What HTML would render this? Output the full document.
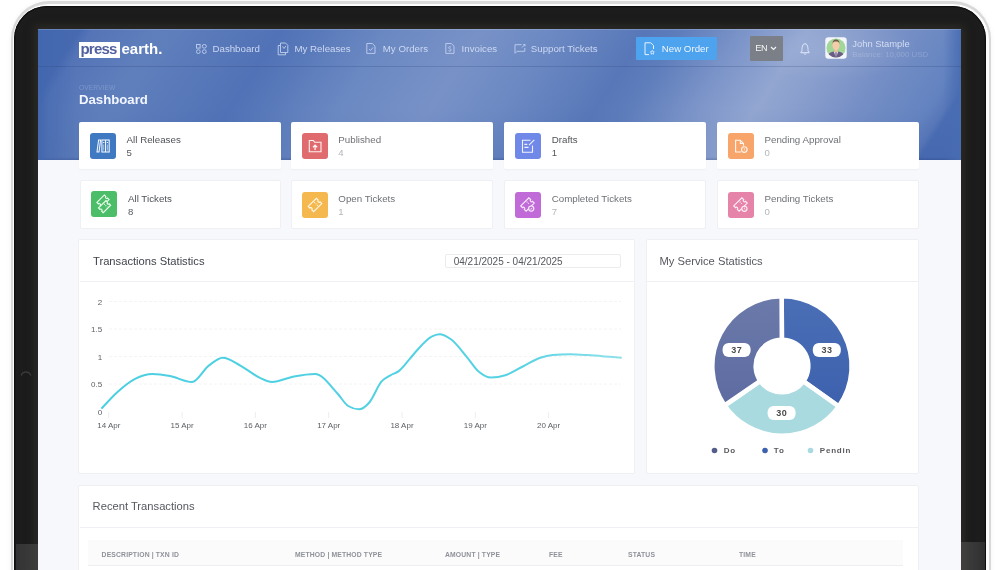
<!DOCTYPE html>
<html><head><meta charset="utf-8"><title>Dashboard</title>
<style>
*{box-sizing:border-box;margin:0;padding:0}
html,body{width:1001px;height:570px;overflow:hidden;background:#fff;font-family:"Liberation Sans",Arial,sans-serif}
#silver{position:absolute;left:10.6px;top:1.2px;width:980px;height:640px;border-radius:38px;background:#d9d9d9;box-shadow:0 0 5px rgba(0,0,0,.05)}
#silver2{position:absolute;left:13.2px;top:3.5px;width:975.6px;height:640px;border-radius:35.5px;background:#fcfcfc}
#bezel{position:absolute;left:14.2px;top:5.5px;width:971.6px;height:640px;border-radius:33px;background:#1c1c1c;box-shadow:inset 0 0 0 1.2px #0f0f0f}
#bbl{position:absolute;left:15.5px;top:544px;width:23px;height:30px;background:linear-gradient(90deg,#333 0,#3a3a3a 60%,#424242 100%)}
#bbr{position:absolute;left:961px;top:541.6px;width:23.8px;height:30px;background:linear-gradient(90deg,#464646 0,#3a3a3a 40%,#2f2f2f 100%)}
#screen{position:absolute;left:38px;top:29px;width:923px;height:541px;overflow:hidden;background:#f7f8fb}
#in{position:absolute;left:-38px;top:-29px;width:1001px;height:570px}
#hdr{position:absolute;left:38px;top:29px;width:923px;height:131px;overflow:hidden;background:#5b7bbb}
#hbase{position:absolute;left:-138px;top:0;width:1200px;height:131px;transform-origin:0 65.5px;transform:skewX(-33deg);background:linear-gradient(90deg,#4669b0 0px,#4669b0 138px,#5474b7 150px,#5f7fbc 220px,#5172b6 340px,#5778b9 372px,#6a88c2 445px,#7892c7 540px,#6c89c3 610px,#5e7dbb 675px,#5877b8 705px,#5e7dbb 740px,#7a93c8 800px,#92a6d1 865px,#8a9fcd 900px,#7790c6 961px,#6383c0 1036px,#5878b9 1054px,#4a6db3 1061px,#4a6db3 1201px)}
#hshade{position:absolute;left:0;top:0;width:923px;height:131px;background:linear-gradient(90deg,#4267ae 0,rgba(66,103,174,.45) 10px,rgba(70,105,176,0) 38px,rgba(70,105,176,0) 905px,rgba(72,108,178,.9) 923px),linear-gradient(180deg,rgba(20,40,100,0) 0,rgba(20,40,100,0) 128px,rgba(20,40,100,.22) 131px),linear-gradient(180deg,rgba(255,255,255,0) 60%,rgba(20,50,130,.08) 100%)}
#navline{position:absolute;left:38px;top:66px;width:923px;height:1px;background:rgba(40,60,110,.22)}
.nav{position:absolute;top:43px;font-size:9.7px;color:#cdd8f2;white-space:nowrap;line-height:11px}
.ico{position:absolute}
.card{position:absolute;background:#fff;border-radius:2px}
.r1{top:122px;height:47px;box-shadow:0 1px 2px rgba(0,0,0,.04)}
.r2{top:180px;height:48.5px;border:1px solid #eef0f4}
.ib{position:absolute;width:26px;height:26px;border-radius:3px}
.ib svg{position:absolute;left:0;top:0}
.lbl{position:absolute;font-size:9.75px;color:#4f5258;white-space:nowrap;line-height:11px}
.num{position:absolute;font-size:9.6px;color:#55585e;line-height:11px}
.num.l{color:#b3b6bb}
.lbl.l{color:#6e7176}
.pcard{position:absolute;background:#fff;border:1px solid #eef0f3;border-radius:2px}
.ttl{position:absolute;font-size:11.2px;color:#3f4349;white-space:nowrap;line-height:13px}
.ax{font-family:"Liberation Sans",Arial,sans-serif;font-size:8px;fill:#5b5e63}
.th{position:absolute;top:551px;font-size:6.8px;font-weight:bold;color:#8e9197;letter-spacing:.15px;white-space:nowrap;line-height:8px}
</style></head><body>
<div id="silver"></div>
<div id="silver2"></div>
<div id="bezel"></div>
<div id="bbl"></div><div id="bbr"></div>
<svg style="position:absolute;left:18px;top:367px" width="16" height="14" viewBox="0 0 16 14" fill="none"><path d="M3.2 8.6A5 5 0 0 1 12.8 8.6" stroke="#3a3a3a" stroke-width="1.3"/></svg>
<div style="position:absolute;left:38px;top:29px;width:923px;height:560px;box-shadow:0 0 8px 3px rgba(58,56,50,.55)"></div>
<div id="screen"><div id="in">
  <div id="hdr"><div id="hbase"></div><div id="hshade"></div></div>
  <div style="position:absolute;left:740px;top:20px;width:180px;height:60px;border-radius:50%;background:radial-gradient(closest-side,rgba(255,255,255,.10),rgba(255,255,255,0))"></div>
  <div style="position:absolute;left:38px;top:29px;width:923px;height:1px;background:rgba(255,255,255,.18)"></div>
  <div id="navline"></div>

  <!-- logo -->
  <div style="position:absolute;left:79px;top:42px;width:41px;height:15.5px;background:#fff"></div>
  <div style="position:absolute;left:80.5px;top:40px;font-size:15px;font-weight:bold;line-height:18px;white-space:nowrap;letter-spacing:-0.8px;color:#51609f">press</div><div style="position:absolute;left:121.5px;top:40px;font-size:15px;font-weight:bold;line-height:18px;white-space:nowrap;color:#fff">earth.</div>

  <!-- nav -->
  <svg class="ico" style="left:196px;top:44px" width="11" height="10" viewBox="0 0 11 10" fill="none" stroke="#b9c8ea" stroke-width="1"><rect x="0.5" y="0.5" width="3.6" height="3.6"/><rect x="6.3" y="0.5" width="4" height="3.6" rx="1.8"/><circle cx="2.3" cy="7.6" r="1.9"/><circle cx="8.3" cy="7.6" r="1.9"/></svg>
  <div class="nav" style="left:212.5px">Dashboard</div>
  <svg class="ico" style="left:277px;top:42px" width="12" height="14" viewBox="0 0 12 14" fill="none" stroke="#b9c8ea" stroke-width="1"><path d="M3.5 3.5H1.2V12.8H8.5V10.5"/><path d="M3.5 1H8.5L10.8 3.3V10.5H3.5Z"/><path d="M5.5 4.5L7 6.5L8.8 4"/></svg>
  <div class="nav" style="left:294.5px">My Releases</div>
  <svg class="ico" style="left:366px;top:43px" width="10" height="11" viewBox="0 0 10 11" fill="none" stroke="#b9c8ea" stroke-width="1"><path d="M0.8 0.5H6.3L9 3.2V10.4H0.8Z"/><path d="M3 6L4.5 7.5L7 4.5"/></svg>
  <div class="nav" style="left:382.8px">My Orders</div>
  <svg class="ico" style="left:445px;top:43px" width="10" height="11" viewBox="0 0 10 11" fill="none" stroke="#b9c8ea" stroke-width="1"><path d="M0.8 0.5H6.3L9 3.2V10.4H0.8Z"/><path d="M6 4.3C5.5 3.6 3.5 3.6 3.5 4.8C3.5 6 6.3 5.6 6.3 7C6.3 8.2 4.2 8.2 3.5 7.5M4.9 3V3.6M4.9 8V8.6" stroke-width=".9"/></svg>
  <div class="nav" style="left:461.6px">Invoices</div>
  <svg class="ico" style="left:513.5px;top:44px" width="12" height="10" viewBox="0 0 12 10" fill="none" stroke="#b9c8ea" stroke-width="1"><path d="M7.5 0.7H1V9.3L3 7.3H10.8V4"/><path d="M9.2 0.5L11 0.5V2.3M8 3.5L11 0.5"/></svg>
  <div class="nav" style="left:530.8px">Support Tickets</div>

  <!-- new order -->
  <div style="position:absolute;left:635.5px;top:37px;width:81px;height:23px;background:#4ea3ef;border-radius:1px"></div>
  <svg class="ico" style="left:644px;top:42px" width="12" height="14" viewBox="0 0 12 14" fill="none" stroke="#e6f1ff" stroke-width="1"><path d="M5 12.6H1V0.8H6.8L9.5 3.5V7"/><path d="M8.3 8.3L8.9 9.6L10.3 9.8L9.3 10.8L9.5 12.2L8.3 11.5L7.1 12.2L7.3 10.8L6.3 9.8L7.7 9.6Z" stroke-width=".8"/></svg>
  <div class="nav" style="left:661.8px;top:43px;color:#eef5ff">New Order</div>

  <!-- EN -->
  <div style="position:absolute;left:749.5px;top:36px;width:33.5px;height:25px;background:#7b7f87;border-radius:1px"></div>
  <div class="nav" style="left:755.3px;top:43.2px;font-size:9.2px;color:#f4f4f4;letter-spacing:-.3px">EN</div>
  <svg class="ico" style="left:770px;top:46px" width="7" height="5" viewBox="0 0 7 5" fill="none" stroke="#f4f4f4" stroke-width="1.2"><path d="M1 1L3.5 3.5L6 1"/></svg>

  <!-- bell -->
  <svg class="ico" style="left:799.5px;top:41.5px" width="10" height="13" viewBox="0 0 10 13" fill="none" stroke="#d3dcf5" stroke-width="1.1" stroke-linejoin="round"><path d="M5 1.4C7.2 2.4 8 4.4 8 6.8V8.8L9.2 10.6H0.8L2 8.8V6.8C2 4.4 2.8 2.4 5 1.4Z"/><path d="M3.7 11.5Q5 13 6.3 11.5"/></svg>

  <!-- avatar -->
  <svg class="ico" style="left:824.5px;top:37px" width="22" height="22" viewBox="0 0 22 22">
    <rect x="0.3" y="0.3" width="21.4" height="21.4" rx="3" fill="#f4f6fb"/>
    <clipPath id="avc"><circle cx="11" cy="11" r="9.6"/></clipPath>
    <circle cx="11" cy="11" r="9.6" fill="#a3d699"/>
    <g clip-path="url(#avc)">
      <path d="M2 23C2 16.5 5.5 14.6 11 14.6C16.5 14.6 20 16.5 20 23Z" fill="#6b5c86"/>
      <path d="M8.8 14.6L11 20.5L13.2 14.6Z" fill="#f2eef6"/>
      <path d="M10.4 15.2L11.6 15.2L11.4 20L10.6 20Z" fill="#4b3f6a"/>
      <rect x="9.6" y="11" width="2.8" height="4" fill="#f0c090"/>
      <ellipse cx="11" cy="8.2" rx="3.5" ry="5" fill="#f6cba9"/>
      <path d="M7.5 7C7.5 3.8 9 2.6 11 2.6C13 2.6 14.5 3.8 14.5 7C14 5 13 4.5 11 4.5C9 4.5 8 5 7.5 7Z" fill="#6e5a48"/>
    </g>
  </svg>
  <div class="nav" style="left:852.3px;top:38.3px;font-size:9.4px;color:#d4ddf4">John Stample</div>
  <div class="nav" style="left:852.3px;top:50px;font-size:7.9px;color:rgba(255,255,255,.2);line-height:9px">Balance: 10,000 USD</div>

  <!-- title -->
  <div style="position:absolute;left:79px;top:84px;font-size:6.6px;color:#7f97cc;letter-spacing:.1px;line-height:7px">OVERVIEW</div>
  <div style="position:absolute;left:79px;top:92.5px;font-size:13.2px;font-weight:bold;color:#f3f6ff;line-height:14px">Dashboard</div>

  <!-- row 1 cards -->
  <div class="card r1" style="left:79px;width:201.6px"></div>
  <div class="card r1" style="left:291.4px;width:202px"></div>
  <div class="card r1" style="left:504px;width:202px"></div>
  <div class="card r1" style="left:716.6px;width:202px"></div>

  <div class="ib" style="left:90px;top:133px;background:#3f79c1"><svg width="26" height="26" viewBox="0 0 26 26" fill="none" stroke="#eef4ff" stroke-width="1.1"><path d="M8.6 7H10.6L9 19H7Z"/><rect x="11.9" y="7" width="7.3" height="12"/><path d="M15.55 7V19"/><path d="M13.7 9V10M17.4 9V10" stroke-width="1.3"/><path d="M13.7 11.5V17.5M17.4 11.5V17.5" stroke-width=".6"/></svg></div>
  <div class="lbl" style="left:126.6px;top:133.9px">All Releases</div>
  <div class="num" style="left:126.6px;top:146.6px">5</div>

  <div class="ib" style="left:302.4px;top:132.7px;background:#e06b6f"><svg width="26" height="26" viewBox="0 0 26 26" fill="none" stroke="#fff1f1" stroke-width="1.1"><path d="M7.3 7.5H11.2L12.7 9.2H19V18.7H7.3Z"/><path d="M13.1 17V12.3M11 14.3L13.1 12.2L15.2 14.3" stroke-width="1.3"/></svg></div>
  <div class="lbl l" style="left:338.3px;top:133.9px">Published</div>
  <div class="num l" style="left:338.3px;top:146.6px">4</div>

  <div class="ib" style="left:515.2px;top:132.7px;background:#7088e8"><svg width="26" height="26" viewBox="0 0 26 26" fill="none" stroke="#f0f3ff" stroke-width="1.1"><path d="M15.5 7.2H7.5V19.3H17.5V12.5"/><path d="M9.4 11.3H12.3M9.4 14.3H13.5" stroke-width="1.3"/><path d="M14 12.2L19.3 6.8"/></svg></div>
  <div class="lbl" style="left:551.7px;top:133.9px">Drafts</div>
  <div class="num" style="left:551.7px;top:146.6px">1</div>

  <div class="ib" style="left:728px;top:132.8px;background:#f7a56b"><svg width="26" height="26" viewBox="0 0 26 26" fill="none" stroke="#fff6ee" stroke-width="1.1"><path d="M13.2 19H7.6V7.3H12.3L15.5 10.5V12.8"/><path d="M12.3 7.3V10.5H15.5"/><circle cx="16.3" cy="16.6" r="2.8"/><path d="M16.3 15.2V16.7L17.2 17.4" stroke-width=".8"/></svg></div>
  <div class="lbl l" style="left:764.5px;top:133.9px">Pending Approval</div>
  <div class="num l" style="left:764.5px;top:146.6px">0</div>

  <!-- row 2 cards -->
  <div class="card r2" style="left:80px;width:200.6px"></div>
  <div class="card r2" style="left:291.4px;width:202px"></div>
  <div class="card r2" style="left:504px;width:202px"></div>
  <div class="card r2" style="left:716.6px;width:202px"></div>

  <div class="ib" style="left:91.3px;top:191.3px;background:#4cbd68"><svg width="26" height="26" viewBox="0 0 26 26" fill="none" stroke="#effff2" stroke-width="1.1"><g transform="translate(12,10) rotate(-45)"><path d="M-5.25,-3.3H5.25V-1.2A1.2,1.2 0 0 0 5.25,1.2V3.3H-5.25V1.2A1.2,1.2 0 0 0 -5.25,-1.2Z"/></g><g transform="translate(13.6,15.6) rotate(-45)"><path d="M-5.25,-3.3H5.25V-1.2A1.2,1.2 0 0 0 5.25,1.2V3.3H-5.25V1.2A1.2,1.2 0 0 0 -5.25,-1.2Z" fill="#4cbd68"/><path d="M1.5,-2.2V2.2" stroke-dasharray="1 1"/></g></svg></div>
  <div class="lbl" style="left:128px;top:192.9px">All Tickets</div>
  <div class="num" style="left:128px;top:206.1px">8</div>

  <div class="ib" style="left:302.1px;top:191.5px;background:#f5b84e"><svg width="26" height="26" viewBox="0 0 26 26" fill="none" stroke="#fff8ea" stroke-width="1.1"><g transform="translate(13,13) rotate(-45)"><path d="M-5.75,-3.8H5.75V-1.3A1.3,1.3 0 0 0 5.75,1.3V3.8H-5.75V1.3A1.3,1.3 0 0 0 -5.75,-1.3Z"/><path d="M1.5,-2.6V2.6" stroke-dasharray="1 1"/></g></svg></div>
  <div class="lbl l" style="left:338.3px;top:192.9px">Open Tickets</div>
  <div class="num l" style="left:338.3px;top:206.1px">1</div>

  <div class="ib" style="left:515.2px;top:191.5px;background:#c16bd9"><svg width="26" height="26" viewBox="0 0 26 26" fill="none" stroke="#fbefff" stroke-width="1.1"><g transform="translate(12.5,12.5) rotate(-45)"><path d="M-5.75,-3.8H5.75V-1.3A1.3,1.3 0 0 0 5.75,1.3V3.8H-5.75V1.3A1.3,1.3 0 0 0 -5.75,-1.3Z"/><path d="M1.5,-2.6V1" stroke-dasharray="1 1"/></g><circle cx="16.2" cy="16.6" r="2.6" fill="#c16bd9"/><path d="M15.1 16.6L15.9 17.4L17.3 15.8" stroke-width=".8"/></svg></div>
  <div class="lbl l" style="left:551.7px;top:192.9px">Completed Tickets</div>
  <div class="num l" style="left:551.7px;top:206.1px">7</div>

  <div class="ib" style="left:727.7px;top:191.5px;background:#e683a9"><svg width="26" height="26" viewBox="0 0 26 26" fill="none" stroke="#fff0f6" stroke-width="1.1"><g transform="translate(12.5,12.5) rotate(-45)"><path d="M-5.75,-3.8H5.75V-1.3A1.3,1.3 0 0 0 5.75,1.3V3.8H-5.75V1.3A1.3,1.3 0 0 0 -5.75,-1.3Z"/><path d="M1.5,-2.6V1" stroke-dasharray="1 1"/></g><circle cx="16.4" cy="16.8" r="2.6" fill="#e683a9"/><path d="M16.4 15.6V16.9L17.3 17.5" stroke-width=".8"/></svg></div>
  <div class="lbl l" style="left:764.5px;top:192.9px">Pending Tickets</div>
  <div class="num l" style="left:764.5px;top:206.1px">0</div>

  <!-- chart cards -->
  <div class="pcard" style="left:78px;top:239px;width:557px;height:234.5px"></div>
  <div style="position:absolute;left:79.5px;top:281px;width:555px;height:1px;background:#eef0f3"></div>
  <div class="ttl" style="left:93px;top:255px">Transactions Statistics</div>
  <div style="position:absolute;left:445.3px;top:253.7px;width:176px;height:14.5px;border:1px solid #ececef;border-radius:2px"></div>
  <div style="position:absolute;left:453.7px;top:255.5px;font-size:10px;color:#55585d;line-height:12px;white-space:nowrap">04/21/2025 - 04/21/2025</div>

  <svg style="position:absolute;left:0;top:0" width="1001" height="570">
    <g stroke="#f4f4f5" stroke-width="1" stroke-dasharray="3 2">
      <path d="M109 301.5H621M109 329H621M109 356.5H621M109 384H621"/>
    </g>
    <g stroke="#ededed" stroke-width="1">
      <path d="M108.8 412V418M182.1 412V418M255.4 412V418M328.7 412V418M402 412V418M475.3 412V418M548.6 412V418"/>
    </g>
    <g class="ax" text-anchor="end">
      <text x="102.2" y="304.5">2</text>
      <text x="102.2" y="332">1.5</text>
      <text x="102.2" y="359.5">1</text>
      <text x="102.2" y="387">0.5</text>
      <text x="102.2" y="414.5">0</text>
    </g>
    <g class="ax" text-anchor="middle">
      <text x="108.8" y="428">14 Apr</text>
      <text x="182.1" y="428">15 Apr</text>
      <text x="255.4" y="428">16 Apr</text>
      <text x="328.7" y="428">17 Apr</text>
      <text x="402" y="428">18 Apr</text>
      <text x="475.3" y="428">19 Apr</text>
      <text x="548.6" y="428">20 Apr</text>
    </g>
    <defs><linearGradient id="lg" gradientUnits="userSpaceOnUse" x1="102" y1="0" x2="621" y2="0"><stop offset="0" stop-color="#4acfe1"/><stop offset="0.8" stop-color="#55d2e3"/><stop offset="1" stop-color="#8fe1ea"/></linearGradient></defs><path d="M102,408 C107.2,402.3 112.3,396.6 117.5,391.9 C123.4,386.6 129.2,381.8 135.1,378.8 C140.9,375.8 146.8,374.0 152.6,374 C158.5,374.0 164.3,375.0 170.2,376.1 C177.5,377.5 184.7,382.0 192,382 C197.6,382.0 203.2,369.8 208.8,365.6 C213.5,362.1 218.1,357.7 222.8,357.7 C228.7,357.7 234.5,362.5 240.4,365.6 C246.9,369.1 253.5,375.0 260,377.9 C264.0,379.7 268.0,382.0 272,382 C279.3,382.0 286.6,377.8 293.9,376.5 C300.9,375.2 308.0,374.0 315,374 C322.6,374.0 330.1,385.6 337.7,393.7 C341.2,397.5 344.7,403.9 348.2,406 C351.8,408.2 355.4,409.3 359,409.3 C362.4,409.3 365.9,406.4 369.3,402.5 C373.4,397.8 377.5,386.0 381.6,381.4 C384.5,378.1 387.5,377.1 390.4,375.3 C393.3,373.6 396.2,373.2 399.1,370.9 C402.7,368.1 406.4,362.8 410,358.6 C412.5,355.7 415.0,352.5 417.5,349.8 C422.2,344.7 426.9,339.2 431.6,336.7 C434.2,335.3 436.9,334.3 439.5,334.3 C443.3,334.3 447.1,336.6 450.9,339.3 C456.2,343.1 461.4,350.6 466.7,356.8 C470.8,361.6 474.8,368.3 478.9,371.8 C483.0,375.3 487.1,377.6 491.2,377.6 C495.9,377.6 500.6,376.8 505.3,375.3 C511.1,373.5 517.0,369.4 522.8,366.5 C528.7,363.6 534.5,359.6 540.4,357.7 C544.5,356.4 548.5,355.5 552.6,355.1 C558.5,354.5 564.3,354.2 570.2,354.2 C576.0,354.2 581.9,354.7 587.7,355.1 C593.6,355.5 599.4,356.0 605.3,356.5 C610.5,356.9 615.8,357.3 621,357.7" fill="none" stroke="url(#lg)" stroke-width="2" stroke-linecap="round"/>
  </svg>

  <div class="pcard" style="left:646px;top:239px;width:273px;height:234.5px"></div>
  <div style="position:absolute;left:647px;top:281px;width:271px;height:1px;background:#eef0f3"></div>
  <div class="ttl" style="left:659.5px;top:255px;color:#55585e">My Service Statistics</div>

  <svg style="position:absolute;left:0;top:0" width="1001" height="570">
    <defs>
      <linearGradient id="gs" x1="0" y1="0" x2="0" y2="1"><stop offset="0" stop-color="#6b7aa9"/><stop offset="1" stop-color="#5d6ba2"/></linearGradient>
      <linearGradient id="gb" x1="0" y1="0" x2="0" y2="1"><stop offset="0" stop-color="#4a6fb6"/><stop offset="1" stop-color="#3d61ad"/></linearGradient>
    </defs>
    <g stroke="#fff" stroke-width="4.6" stroke-linejoin="miter">
      <path d="M781.64,296.30 A69.7,69.7 0 0 1 838.74,406.47 L803.41,381.27 A26.3,26.3 0 0 0 781.86,339.70 Z" fill="url(#gb)"/>
      <path d="M838.74,406.47 A69.7,69.7 0 0 1 724.56,405.48 L760.33,380.90 A26.3,26.3 0 0 0 803.41,381.27 Z" fill="#a9dadf"/>
      <path d="M724.56,405.48 A69.7,69.7 0 0 1 781.64,296.30 L781.86,339.70 A26.3,26.3 0 0 0 760.33,380.90 Z" fill="url(#gs)"/>
    </g>
    <g>
      <rect x="722.6" y="343" width="28" height="14" rx="6" fill="#fff"/>
      <rect x="812.8" y="343" width="28" height="14" rx="6" fill="#fff"/>
      <rect x="767.6" y="406" width="28" height="14" rx="6" fill="#fff"/>
    </g>
    <g font-family="Liberation Sans, Arial, sans-serif" font-size="9" font-weight="bold" fill="#4a4a4a" text-anchor="middle" letter-spacing=".5">
      <text x="736.8" y="353.3">37</text>
      <text x="827" y="353.3">33</text>
      <text x="781.8" y="416.3">30</text>
    </g>
    <g font-family="Liberation Sans, Arial, sans-serif" font-size="8" font-weight="bold" fill="#5a5a5f" letter-spacing=".8">
      <circle cx="714.5" cy="450.5" r="2.8" fill="#555d8c"/><text x="723.8" y="453.2">Do</text>
      <circle cx="765" cy="450.5" r="2.8" fill="#3e61ad"/><text x="773.8" y="453.2">To</text>
      <circle cx="810.5" cy="450.5" r="2.8" fill="#a9dadf"/><text x="819.8" y="453.2">Pendin</text>
    </g>
  </svg>

  <!-- recent transactions -->
  <div class="pcard" style="left:78px;top:485px;width:840.5px;height:120px"></div>
  <div style="position:absolute;left:79.5px;top:526.5px;width:838.5px;height:1px;background:#eef0f3"></div>
  <div class="ttl" style="left:92.6px;top:499.5px;color:#55585e">Recent Transactions</div>
  <div style="position:absolute;left:88px;top:540px;width:815px;height:25px;background:#fbfbfc"></div>
  <div style="position:absolute;left:88px;top:565px;width:815px;height:1px;background:#eceef1"></div>
  <div class="th" style="left:101.6px">DESCRIPTION | TXN ID</div>
  <div class="th" style="left:295px">METHOD | METHOD TYPE</div>
  <div class="th" style="left:445px">AMOUNT | TYPE</div>
  <div class="th" style="left:549px">FEE</div>
  <div class="th" style="left:628px">STATUS</div>
  <div class="th" style="left:739px">TIME</div>
</div></div>
</body></html>
